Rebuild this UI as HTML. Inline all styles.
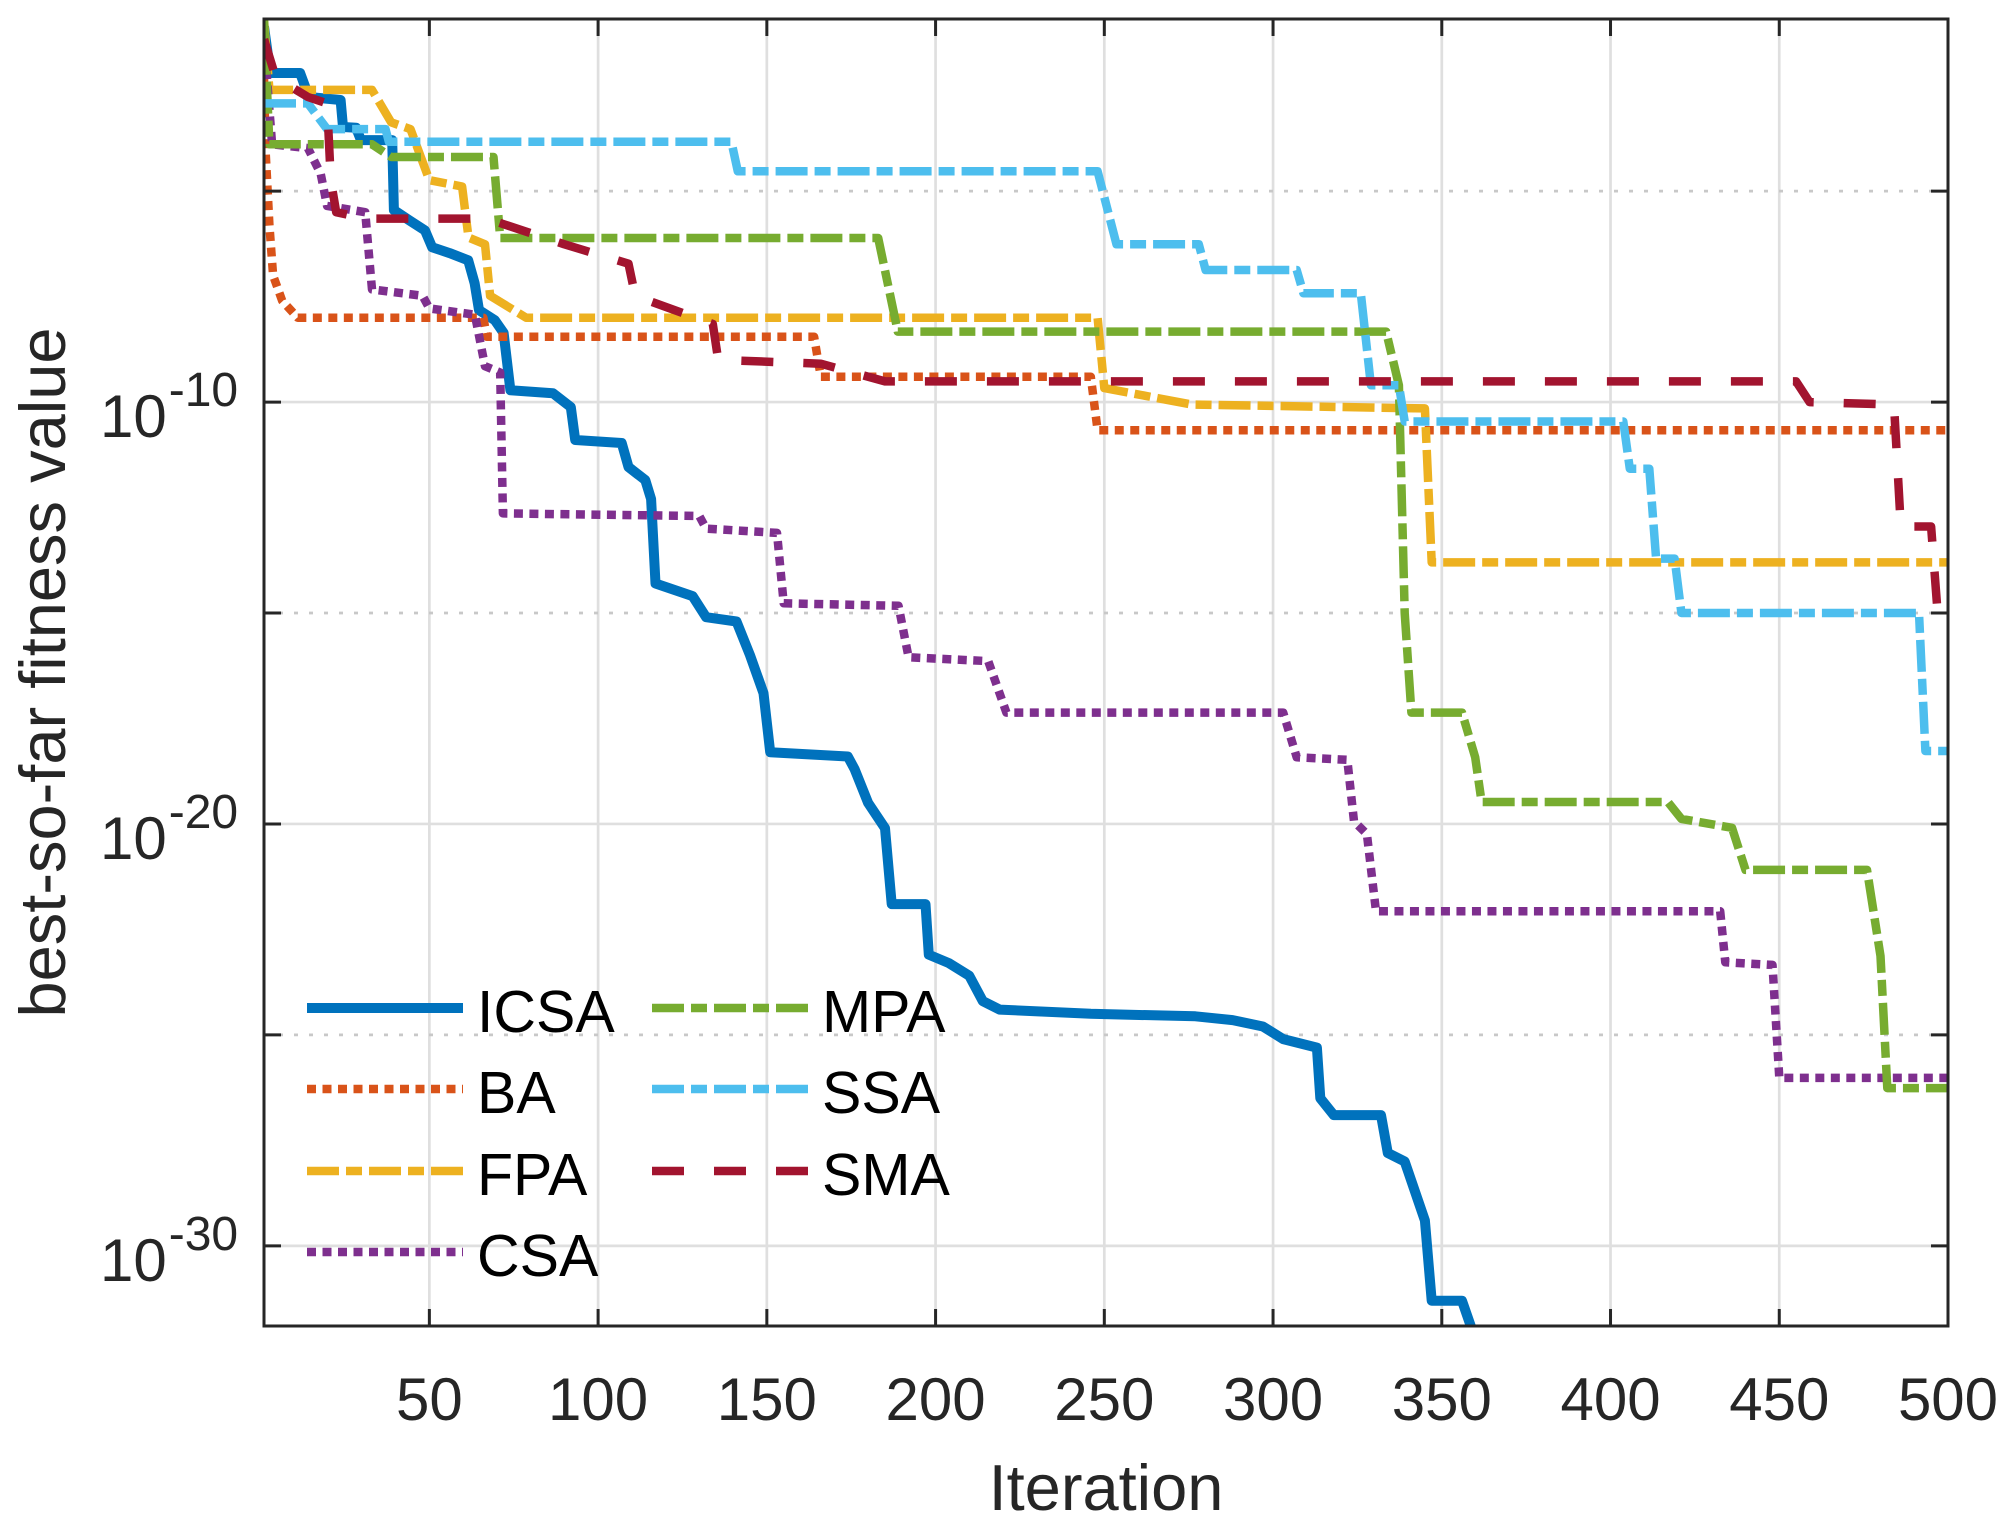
<!DOCTYPE html>
<html><head><meta charset="utf-8"><style>
html,body{margin:0;padding:0;background:#fff;}
svg{display:block;}
text{font-family:"Liberation Sans",Arial,sans-serif;}
</style></head><body>
<svg id="chart" width="2015" height="1534" viewBox="0 0 2015 1534" xmlns="http://www.w3.org/2000/svg">
<rect x="0" y="0" width="2015" height="1534" fill="#fff"/>
<g id="grid"></g>
<g id="series"></g>
<g id="axes"></g>
<g id="legend"></g>
</svg>
<script>
// ---- data (iteration, log10 of best-so-far fitness) ----
const xTicks = [50,100,150,200,250,300,350,400,450,500];
const yMajorTicks = [-30,-20,-10];
const yMinorTicks = [-25,-15,-5];
const seriesNames = ["ICSA","BA","FPA","CSA","MPA","SSA","SMA"];

const icsaIter = [1,2.9,11.7,14.3,23.7,24.4,28.3,29.7,39,39.5,44,48.7,50.8,56,61.5,63.4,64.7,69.4,72,74,86.6,91.9,93.2,107,109,114,115.7,117,128,132,141,145,149,151,174,176,180,185,187,197,198,204,210,214,219,246,277,288,297,303,313,314,318,332,334,339,345,347,356,359];
const icsaLog  = [-1.1,-2.2,-2.2,-2.77,-2.84,-3.48,-3.5,-3.79,-3.79,-5.45,-5.69,-5.93,-6.33,-6.47,-6.64,-7.18,-7.82,-8.06,-8.36,-9.72,-9.79,-10.12,-10.9,-10.97,-11.54,-11.85,-12.3,-14.3,-14.6,-15.1,-15.2,-16.0,-16.9,-18.3,-18.4,-18.7,-19.5,-20.1,-21.9,-21.9,-23.1,-23.3,-23.6,-24.2,-24.4,-24.5,-24.56,-24.65,-24.8,-25.1,-25.3,-26.5,-26.9,-26.9,-27.8,-28.0,-29.4,-31.3,-31.3,-32.0];

const baIter = [1,1.5,2.6,3.7,6.4,11,66,67,164,166,246,248,500];
const baLog  = [-2.3,-4.1,-5.8,-7.0,-7.6,-8.0,-8.0,-8.45,-8.45,-9.4,-9.4,-10.67,-10.67];

const fpaIter = [1,2.6,33,38.7,44.4,50,59.7,61.6,66.5,68,78.7,248,250,276,345,347,500];
const fpaLog  = [-0.94,-2.6,-2.6,-3.37,-3.53,-4.74,-4.89,-6.1,-6.26,-7.48,-8.0,-8.0,-9.67,-10.06,-10.15,-13.8,-13.8];

const csaIter = [1,3.4,14,17.8,19.7,31,33,48,50,63.5,66.5,71,71.8,130,132,153,155,189,192,215.6,221,303,307,322,324,327.8,330.5,432.5,434,448,450,500];
const csaLog  = [-1.4,-3.89,-3.98,-4.59,-5.35,-5.5,-7.33,-7.48,-7.78,-7.93,-9.15,-9.3,-12.64,-12.7,-13.0,-13.1,-14.77,-14.83,-16.05,-16.14,-17.36,-17.36,-18.42,-18.48,-19.94,-20.24,-22.07,-22.07,-23.28,-23.34,-26.02,-26.02];

const mpaIter = [1,2.6,33,38.7,69,71,183,188.8,333.5,337.3,339,341,356,359.9,361.8,417,421,436,440,476,480,482,500];
const mpaLog  = [-0.94,-3.89,-3.89,-4.19,-4.19,-6.11,-6.11,-8.33,-8.33,-9.6,-15.0,-17.36,-17.36,-18.42,-19.48,-19.48,-19.88,-20.09,-21.09,-21.09,-23.13,-26.26,-26.26];

const ssaIter = [1,14,19.7,37,38,139.5,141.4,248,253.6,278,280,307,309,326,329,337.3,339,403.8,405.7,411.5,413.5,419,421,491.4,493.3,500];
const ssaLog  = [-2.92,-2.92,-3.53,-3.53,-3.83,-3.83,-4.53,-4.53,-6.26,-6.26,-6.87,-6.87,-7.42,-7.42,-9.6,-9.6,-10.46,-10.46,-11.58,-11.58,-13.71,-13.71,-15.0,-15.0,-18.27,-18.27];

const smaIter = [1,4.5,14,19.7,20.8,22.4,31,67,90,109,111,134,135.6,166,185,455,459,484,486,495,497,500];
const smaLog  = [-1.4,-2.31,-2.77,-2.92,-4.74,-5.5,-5.65,-5.65,-6.26,-6.72,-7.48,-8.15,-9.0,-9.09,-9.51,-9.51,-10.0,-10.06,-12.95,-12.95,-15.08,-15.08];

// ---- layout ----
const L=264, R=1948, T=19, B=1326;
const xMin=1, xMax=500, yMin=-31.9, yMax=-0.92;
const NS="http://www.w3.org/2000/svg";
function sx(v){return L+(v-xMin)/(xMax-xMin)*(R-L);}
function sy(v){return T+(yMax-v)/(yMax-yMin)*(B-T);}
function mk(tag,attrs,parent){const e=document.createElementNS(NS,tag);for(const k in attrs)e.setAttribute(k,attrs[k]);parent.appendChild(e);return e;}

const grid=document.getElementById('grid');
const axes=document.getElementById('axes');
const series=document.getElementById('series');
const legend=document.getElementById('legend');

// grid
xTicks.forEach(t=>{ if(t>=xMax) return;
  const g=mk('line',{x1:sx(t),x2:sx(t),y1:T,y2:B,stroke:'#dfdfdf','stroke-width':2.7},grid);
  
  
});
yMajorTicks.forEach(t=>{
  const g=mk('line',{x1:L,x2:R,y1:sy(t),y2:sy(t),stroke:'#dfdfdf','stroke-width':2.7},grid);
  
  
});
yMinorTicks.forEach(t=>{
  const g=mk('line',{x1:L,x2:R,y1:sy(t),y2:sy(t),stroke:'#c8c8c8','stroke-width':2.7,'stroke-dasharray':'4 11'},grid);
  
  
});

// series
const colors=['#0072BD','#D95319','#EDB120','#7E2F8E','#77AC30','#4DBEEE','#A2142F'];
const dashes=['','9 6.5','32 7 16 7','9 6.5','32 7 16 7','32 7 16 7','32 30'];
const widths=[10,8.5,8.5,8.5,8.5,8.5,8.5];
const allIter=[icsaIter,baIter,fpaIter,csaIter,mpaIter,ssaIter,smaIter];
const allLog=[icsaLog,baLog,fpaLog,csaLog,mpaLog,ssaLog,smaLog];
const clip=mk('clipPath',{id:'plotclip'},document.getElementById('chart'));
mk('rect',{x:L,y:T-6,width:R-L,height:B-T+6},clip);
for(let i=0;i<7;i++){
  const xs=allIter[i], ys=allLog[i];
  let d='';
  for(let j=0;j<xs.length;j++){d+=(j?'L':'M')+sx(xs[j]).toFixed(1)+','+sy(ys[j]).toFixed(1);}
  const p=mk('path',{d:d,fill:'none',stroke:colors[i],'stroke-width':widths[i],'stroke-linejoin':'round','clip-path':'url(#plotclip)'},series);
  if(dashes[i]) p.setAttribute('stroke-dasharray',dashes[i]);
  
  
}

// axes box
const box=mk('rect',{x:L,y:T,width:R-L,height:B-T,fill:'none',stroke:'#262626','stroke-width':3},axes);


xTicks.forEach(t=>{
  const x=sx(t);
  mk('line',{x1:x,x2:x,y1:B,y2:B-17,stroke:'#262626','stroke-width':3},axes);
  mk('line',{x1:x,x2:x,y1:T,y2:T+17,stroke:'#262626','stroke-width':3},axes);
  const lb=mk('text',{x:x,y:1420,'text-anchor':'middle','font-size':60,fill:'#262626'},axes);
  lb.textContent=String(t);
  
  
});
yMajorTicks.concat(yMinorTicks).forEach(t=>{
  const y=sy(t);
  mk('line',{x1:L,x2:L+17,y1:y,y2:y,stroke:'#262626','stroke-width':3},axes);
  mk('line',{x1:R,x2:R-17,y1:y,y2:y,stroke:'#262626','stroke-width':3},axes);
});
yMajorTicks.forEach(t=>{
  const y=sy(t);
  const lb=mk('text',{x:100,y:y+35,'font-size':60,fill:'#262626'},axes);
  
  
  const a=mk('tspan',{},lb); a.textContent='10';
  const b=mk('tspan',{'font-size':48,dy:-31,dx:2},lb); b.textContent=String(t);
});
const xl=mk('text',{x:(L+R)/2,y:1510,'text-anchor':'middle','font-size':65,fill:'#262626'},axes);
xl.textContent='Iteration';


const yl=mk('text',{x:0,y:0,'text-anchor':'middle','font-size':65,fill:'#262626',transform:'translate(65,'+((T+B)/2)+') rotate(-90)'},axes);
yl.textContent='best-so-far fitness value';



// legend
const legX=[307,652], legTextX=[477,822], legY=[1008,1089,1171,1252];
const order=[[0,0,0],[1,0,1],[2,0,2],[3,0,3],[4,1,0],[5,1,1],[6,1,2]];
order.forEach(o=>{
  const i=o[0], c=o[1], r=o[2];
  const g=mk('g',{},legend);
  
  
  const ln=mk('line',{x1:legX[c],x2:legX[c]+156,y1:legY[r],y2:legY[r],stroke:colors[i],'stroke-width':widths[i]},g);
  if(dashes[i]) ln.setAttribute('stroke-dasharray',dashes[i]);
  const tx=mk('text',{x:legTextX[c],y:legY[r]+24,'font-size':59,fill:'#000'},g);
  tx.textContent=seriesNames[i];
});
</script>
</body></html>
